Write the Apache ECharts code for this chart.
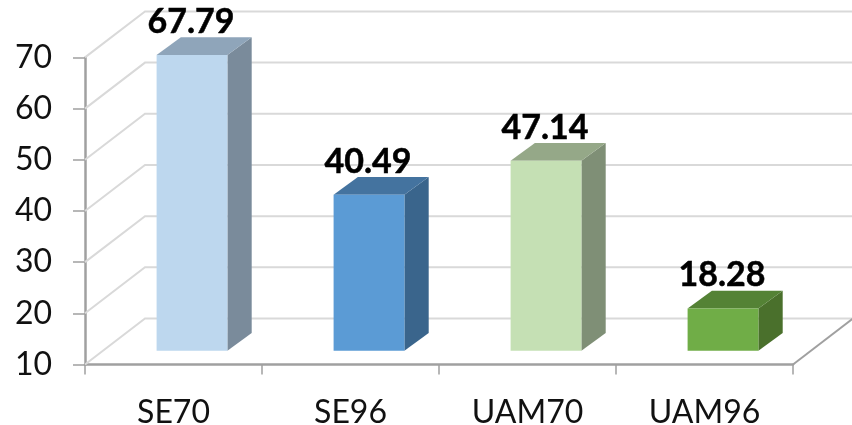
<!DOCTYPE html>
<html>
<head>
<meta charset="utf-8">
<style>html,body{margin:0;padding:0;background:#fff}#chart{width:852px;height:425px}</style>
<script src="https://cdn.jsdelivr.net/npm/echarts@6/dist/echarts.min.js"></script>
</head>
<body>
<div id="chart"></div>
<script>
const categories = ['SE70', 'SE96', 'UAM70', 'UAM96'];
const scores = [67.79, 40.49, 47.14, 18.28];
const gridValues = [10, 20, 30, 40, 50, 60, 70];
const frontColors = ['#BDD7EE', '#5B9BD5', '#C5E0B4', '#70AD47'];
const topColors = ['#8FA5BA', '#44739F', '#95A888', '#548235'];
const sideColors = ['#7A8B9B', '#3A658C', '#7F8F76', '#4A702C'];

const FONT = 'Lato, "Open Sans", sans-serif';
const AXIS_BASE = 10;
const WALL_DX = 60, WALL_DY = 46;        // oblique offset of the back wall
const BAR_INSET_X = 18.5, BAR_INSET_Y = 13.7; // bars stand slightly behind the front edge
const BAR_DX = 24.3, BAR_DY = 17.7;      // bar depth
const BAR_RATIO = 0.4;

const lineStyle = (color, width) => ({ stroke: color, lineWidth: width, fill: null });

function renderWall(params, api) {
  const value = api.value(1);
  const [x0, y0] = api.coord([0, value]);
  const left = x0 - api.size([1, 0])[0] / 2;
  const backX = left + WALL_DX, backY = y0 - WALL_DY;
  const children = [
    { type: 'polyline', shape: { points: [[left, y0], [backX, backY], [860, backY]] },
      style: lineStyle('#D9D9D9', 2) }
  ];
  if (value === AXIS_BASE) {
    const right = left + api.size([1, 0])[0] * categories.length;
    children.push({ type: 'line',
      shape: { x1: right, y1: y0, x2: right + WALL_DX, y2: backY },
      style: lineStyle('#A0A0A0', 2) });
  }
  return { type: 'group', children };
}

function renderBar(params, api) {
  const i = api.value(0), value = api.value(1);
  const band = api.size([1, 0])[0];
  const [cx, yTop] = api.coord([i, value]);
  const yBase = api.coord([i, AXIS_BASE])[1];
  const w = band * BAR_RATIO;
  const x1 = cx + BAR_INSET_X - w / 2, x2 = x1 + w;
  const top = yTop - BAR_INSET_Y, bottom = yBase - BAR_INSET_Y;
  return {
    type: 'group',
    children: [
      { type: 'polygon',
        shape: { points: [[x2, top], [x2 + BAR_DX, top - BAR_DY], [x2 + BAR_DX, bottom - BAR_DY], [x2, bottom]] },
        style: { fill: sideColors[i] } },
      { type: 'polygon',
        shape: { points: [[x1, top], [x1 + BAR_DX, top - BAR_DY], [x2 + BAR_DX, top - BAR_DY], [x2, top]] },
        style: { fill: topColors[i] } },
      { type: 'rect',
        shape: { x: x1, y: top, width: w, height: bottom - top },
        style: { fill: frontColors[i] } },
      { type: 'text',
        style: { text: value.toFixed(2), x: cx + BAR_INSET_X - 1, y: top - 16,
          align: 'center', verticalAlign: 'bottom',
          font: 'bold 34px ' + FONT, fill: '#000',
          stroke: '#000', lineWidth: 0.5 } }
    ]
  };
}

const chart = echarts.init(document.getElementById('chart'), null, { renderer: 'canvas' });
chart.setOption({
  animation: false,
  backgroundColor: '#fff',
  grid: { left: 85, right: 59, top: 57.4, bottom: 60.5, outerBoundsMode: 'none' },
  xAxis: {
    type: 'category',
    data: categories,
    axisLine: { lineStyle: { color: '#A0A0A0', width: 2.5 } },
    axisTick: { show: true, alignWithLabel: false, length: 10, lineStyle: { color: '#A0A0A0', width: 1.5 } },
    axisLabel: { color: '#111', fontFamily: FONT, fontSize: 32, margin: 32 },
    splitLine: { show: false }
  },
  yAxis: {
    type: 'value',
    min: 10,
    max: 70,
    interval: 10,
    axisLine: { show: true, lineStyle: { color: '#A0A0A0', width: 2.5 } },
    axisTick: { show: true, length: 12, lineStyle: { color: '#A0A0A0', width: 1.5 } },
    axisLabel: { color: '#111', fontFamily: FONT, fontSize: 32, margin: 33 },
    splitLine: { show: false }
  },
  series: [
    { type: 'custom', z: 1, clip: false, silent: true, renderItem: renderWall,
      data: gridValues.map(v => [0, v]) },
    { type: 'custom', z: 3, clip: false, renderItem: renderBar,
      data: scores.map((v, i) => [i, v]) }
  ]
});
</script>
</body>
</html>
